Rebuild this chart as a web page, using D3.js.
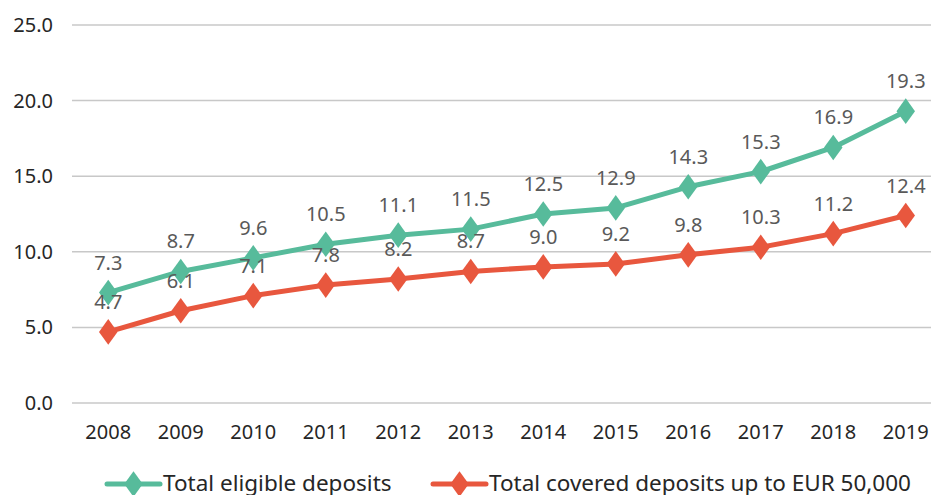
<!DOCTYPE html>
<html>
<head>
<meta charset="utf-8">
<script src="https://cdn.jsdelivr.net/npm/d3@7"></script>
<style>
  body { margin: 0; background: #fff; }
  text { font-family: "Noto Sans", sans-serif; }
</style>
</head>
<body>
<svg id="chart" width="931" height="495"></svg>
<script>
// chart data
const years = ["2008", "2009", "2010", "2011", "2012", "2013", "2014", "2015", "2016", "2017", "2018", "2019"];
const eligible = [7.3, 8.7, 9.6, 10.5, 11.1, 11.5, 12.5, 12.9, 14.3, 15.3, 16.9, 19.3];
const covered = [4.7, 6.1, 7.1, 7.8, 8.2, 8.7, 9.0, 9.2, 9.8, 10.3, 11.2, 12.4];
const yTicks = [0, 5, 10, 15, 20, 25];
const seriesNames = ["Total eligible deposits", "Total covered deposits up to EUR 50,000"];

const colors = ["#57bb9b", "#e8573e"];

const svg = d3.select("#chart");
const plotLeft = 72, plotRight = 942, plotTop = 25, plotBottom = 403;

const x = d3.scaleBand().domain(years).range([plotLeft, plotRight]);
const y = d3.scaleLinear().domain([0, 25]).range([plotBottom, plotTop]);
const cx = d => x(d) + x.bandwidth() / 2;

// gridlines
svg.append("g")
    .selectAll("line")
    .data(yTicks)
    .join("line")
        .attr("x1", plotLeft)
        .attr("x2", 931)
        .attr("y1", d => y(d))
        .attr("y2", d => y(d))
        .attr("stroke", "#c8c8c8")
        .attr("stroke-width", 1.5);

// y axis labels
svg.append("g")
    .selectAll("text")
    .data(yTicks)
    .join("text")
        .attr("x", 53)
        .attr("y", d => y(d))
        .attr("dy", "0.35em")
        .attr("text-anchor", "end")
        .attr("font-size", 20)
        .attr("fill", "#262626")
        .text(d => d.toFixed(1));

// x axis labels
svg.append("g")
    .selectAll("text")
    .data(years)
    .join("text")
        .attr("x", cx)
        .attr("y", 432)
        .attr("dy", "0.35em")
        .attr("text-anchor", "middle")
        .attr("font-size", 20)
        .attr("fill", "#262626")
        .text(d => d);

const line = d3.line()
    .x((d, i) => cx(years[i]))
    .y(d => y(d));

const diamond = d3.symbol().type(d3.symbolDiamond).size(190);

[eligible, covered].forEach((vals, s) => {
    const g = svg.append("g");
    g.append("path")
        .datum(vals)
        .attr("d", line)
        .attr("fill", "none")
        .attr("stroke", colors[s])
        .attr("stroke-width", 5)
        .attr("stroke-linejoin", "round");
    g.selectAll("path.marker")
        .data(vals)
        .join("path")
            .attr("class", "marker")
            .attr("d", diamond)
            .attr("transform", (d, i) => "translate(" + cx(years[i]) + "," + y(d) + ") scale(1.25,1)")
            .attr("fill", colors[s]);
});

// data labels (drawn after both lines so they sit on top)
[eligible, covered].forEach((vals, s) => {
    svg.append("g")
        .selectAll("text")
        .data(vals)
        .join("text")
            .attr("x", (d, i) => cx(years[i]))
            .attr("y", d => y(d) - 30)
            .attr("dy", "0.35em")
            .attr("text-anchor", "middle")
            .attr("font-size", 20)
            .attr("fill", "#595959")
            .text(d => d.toFixed(1));
});

// legend
const legendX = [107, 433];
seriesNames.forEach((name, s) => {
    const g = svg.append("g").attr("transform", "translate(" + legendX[s] + ",484)");
    g.append("line")
        .attr("x1", 0).attr("x2", 53)
        .attr("stroke", colors[s])
        .attr("stroke-width", 5)
        .attr("stroke-linecap", "round");
    g.append("path")
        .attr("d", diamond)
        .attr("transform", "translate(26.5,0) scale(1.25,1)")
        .attr("fill", colors[s]);
    g.append("text")
        .attr("x", 56)
        .attr("y", 7)
        .attr("font-size", 22.5)
        .attr("fill", "#262626")
        .text(name);
});
</script>
</body>
</html>
